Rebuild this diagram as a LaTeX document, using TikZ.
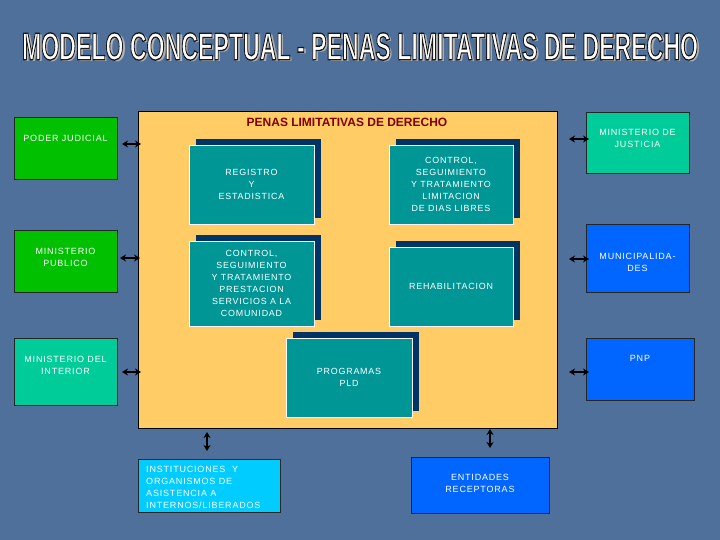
\documentclass[tikz,border=0pt]{standalone}
\usepackage{fontspec}
\usepackage{graphicx}
\setmainfont{Liberation Sans}
\newfontfamily\boxfont[LetterSpace=9]{Liberation Sans}
\usetikzlibrary{arrows.meta,shadows}
\definecolor{bgblue}{RGB}{78,112,155}
\definecolor{sgreen}{RGB}{0,192,0}
\definecolor{sturq}{RGB}{0,204,153}
\definecolor{sblue}{RGB}{0,102,255}
\definecolor{scyan}{RGB}{0,204,255}
\definecolor{iteal}{RGB}{0,150,150}
\definecolor{inavy}{RGB}{0,51,102}
\definecolor{borange}{RGB}{255,204,102}
\definecolor{dred}{RGB}{128,0,0}
\newcommand\mytitletext{\resizebox{676pt}{27pt}{\bfseries MODELO CONCEPTUAL - PENAS LIMITATIVAS DE DERECHO}}
\newcommand\mytitleoutlined{\resizebox{676pt}{27pt}{\special{pdf:code 0.1 0.1 0.1 RG 2 Tr 0.35 w}\bfseries MODELO CONCEPTUAL - PENAS LIMITATIVAS DE DERECHO\special{pdf:code 0 Tr}}}
\begin{document}
\begin{tikzpicture}[x=1pt,y=-1pt,
  sidebox/.style={draw=black!85,line width=0.8pt,inner sep=0pt},
  innerbox/.style={draw=white,line width=0.9pt,fill=iteal,inner sep=0pt,text=white,align=center,
    font=\boxfont\fontsize{8.9}{12}\selectfont,
    general shadow={fill=inavy,shadow xshift=6.5pt,shadow yshift=6pt}},
  stext/.style={text=white,align=center,inner sep=0pt,font=\boxfont\fontsize{9}{12}\selectfont},
  dbl/.style={line width=2.4pt,{Stealth[length=6pt,width=7pt]}-{Stealth[length=6pt,width=7pt]}},
  ttl/.style={inner sep=0pt}]
\useasboundingbox (0,0) rectangle (720,540);
\fill[bgblue] (0,0) rectangle (720,540);
% title
\node[ttl,text=black!30] (tshadow) at (362.5,48.5) {\mytitletext};
\node[ttl,text=white] (title) at (360,46.5) {\mytitleoutlined};
% main box
\node[draw=black,line width=1pt,fill=borange,minimum width=419pt,minimum height=316pt,inner sep=0pt] (main) at (347.5,270) {};
\node[text=dred,font=\bfseries\fontsize{12}{14}\selectfont,inner sep=0pt] (mtitle) at (347,122) {PENAS LIMITATIVAS DE DERECHO};
% inner boxes
\node[innerbox,minimum width=125pt,minimum height=79pt] (reg) at (251.5,184.5) {REGISTRO\\Y\\ESTADISTICA};
\node[innerbox,minimum width=124pt,minimum height=79pt] (ldl) at (451,184.5) {CONTROL,\\SEGUIMIENTO\\Y TRATAMIENTO\\LIMITACION\\DE DIAS LIBRES};
\node[innerbox,minimum width=125pt,minimum height=85pt] (psc) at (251.5,283.5) {CONTROL,\\SEGUIMIENTO\\Y TRATAMIENTO\\PRESTACION\\SERVICIOS A LA\\COMUNIDAD};
\node[innerbox,minimum width=124pt,minimum height=79pt] (reh) at (451,286.5) {REHABILITACION};
\node[innerbox,minimum width=126pt,minimum height=79pt] (pld) at (349,377.5) {PROGRAMAS\\PLD};
% side boxes
\node[sidebox,fill=sgreen,minimum width=103pt,minimum height=62pt] (pj) at (65.5,148) {};
\node[stext] at (65.5,138) {PODER JUDICIAL};
\node[sidebox,fill=sgreen,minimum width=103pt,minimum height=62pt] (mp) at (65.5,261) {};
\node[stext] at (65.5,257.5) {MINISTERIO\\PUBLICO};
\node[sidebox,fill=sturq,minimum width=103pt,minimum height=67pt] (mi) at (65.5,371.5) {};
\node[stext] at (65.5,365) {MINISTERIO DEL\\INTERIOR};
\node[sidebox,fill=sturq,minimum width=103pt,minimum height=61pt] (mj) at (637.5,142.5) {};
\node[stext] at (637.5,138.5) {MINISTERIO DE\\JUSTICIA};
\node[sidebox,fill=sblue,minimum width=103pt,minimum height=68pt] (mu) at (637.5,258) {};
\node[stext] at (637.5,262.5) {MUNICIPALIDA-\\DES};
\node[sidebox,fill=sblue,minimum width=108pt,minimum height=62pt] (pnp) at (640,369) {};
\node[stext] at (640,358) {PNP};
\node[sidebox,fill=scyan,minimum width=142pt,minimum height=53pt] (inst) at (209,485.5) {};
\node[stext,align=left,anchor=west] at (146,487.5) {INSTITUCIONES~~Y\\ORGANISMOS DE\\ASISTENCIA A\\INTERNOS/LIBERADOS};
\node[sidebox,fill=sblue,minimum width=138pt,minimum height=56pt] (ent) at (480,485) {};
\node[stext] at (480,483) {ENTIDADES\\RECEPTORAS};
% arrows
\coordinate (l1a) at (122,144); \coordinate (l1b) at (141,144);
\coordinate (l2a) at (120,258); \coordinate (l2b) at (140,258);
\coordinate (l3a) at (122,372); \coordinate (l3b) at (141,372);
\coordinate (r1a) at (569,139); \coordinate (r1b) at (589,139);
\coordinate (r2a) at (569,259); \coordinate (r2b) at (589,259);
\coordinate (r3a) at (569,372); \coordinate (r3b) at (589,372);
\coordinate (b1a) at (207,432); \coordinate (b1b) at (207,451);
\coordinate (b2a) at (490,429); \coordinate (b2b) at (490,448);
\draw[dbl] (l1a) -- (l1b);
\draw[dbl] (l2a) -- (l2b);
\draw[dbl] (l3a) -- (l3b);
\draw[dbl] (r1a) -- (r1b);
\draw[dbl] (r2a) -- (r2b);
\draw[dbl] (r3a) -- (r3b);
\draw[dbl] (b1a) -- (b1b);
\draw[dbl] (b2a) -- (b2b);
\end{tikzpicture}
\end{document}
